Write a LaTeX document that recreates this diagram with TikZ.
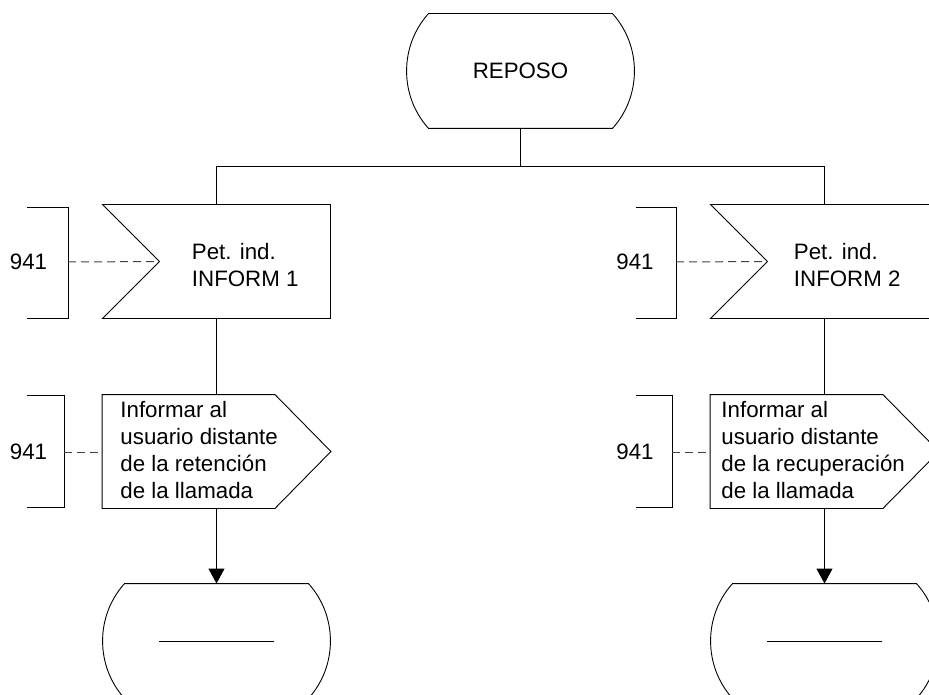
\documentclass[tikz,border=0pt]{standalone}
\usepackage{fontspec}
\setmainfont{Liberation Sans}
\usetikzlibrary{arrows.meta}
\begin{document}
\begin{tikzpicture}[x=1pt,y=-1pt,line width=0.9pt,
  every node/.style={font=\fontsize{22.3}{27}\selectfont,inner sep=0pt},
  statebox/.style={minimum width=183pt,minimum height=114pt},
  inbox/.style={minimum width=227pt,minimum height=113pt},
  outbox/.style={minimum width=228pt,minimum height=113pt},
  txt/.style={align=left,anchor=west},
  dashline/.style={draw=black!75,line width=1pt,dash pattern=on 8pt off 5pt},
  flow/.style={-{Triangle[width=16pt,length=15pt]}}]
\path[use as bounding box] (0,0) rectangle (929,695);
\clip (0,0) rectangle (929,695);
% nodes
\node[statebox] (reposo) at (520.5,71) {REPOSO};
\node[inbox] (in1) at (216.5,261.5) {};
\node[inbox] (in2) at (824.5,261.5) {};
\node[outbox] (out1) at (216.5,451.5) {};
\node[outbox] (out2) at (824.5,451.5) {};
\node[statebox] (end1) at (216.5,641) {};
\node[statebox] (end2) at (824.5,641) {};
\node[txt] (in1t) at (191.5,265) {Pet. ind.\\INFORM 1};
\node[txt] (in2t) at (793.5,265) {Pet. ind.\\INFORM 2};
\node[txt] (out1t) at (120,450) {Informar al\\usuario distante\\de la retención\\de la llamada};
\node[txt] (out2t) at (721,450) {Informar al\\usuario distante\\de la recuperación\\de la llamada};
\node (c1) at (28.5,262) {941};
\node (c2) at (28.5,452) {941};
\node (c3) at (635,262) {941};
\node (c4) at (635,452) {941};
% state outlines
\foreach \n in {reposo,end1,end2}
  \draw (\n.north west) -- (\n.north east)
    .. controls ([shift={(29.3,32.3)}]\n.north east) and ([shift={(29.3,-32.3)}]\n.south east) .. (\n.south east)
    -- (\n.south west)
    .. controls ([shift={(-29.3,-32.3)}]\n.south west) and ([shift={(-29.3,32.3)}]\n.north west) .. cycle;
\foreach \n in {end1,end2}
  \draw ([xshift=-57.5pt]\n.center) -- ([xshift=57.5pt]\n.center);
% inputs
\foreach \n in {in1,in2}
  \draw (\n.north west) -- (\n.north east) -- (\n.south east) -- (\n.south west)
    -- ([xshift=57pt]\n.west) coordinate (\n notch) -- cycle;
% outputs
\foreach \n in {out1,out2}
  \draw (\n.north west) -- ([xshift=-56pt]\n.north east) -- (\n.east)
    -- ([xshift=-56pt]\n.south east) -- (\n.south west) -- cycle;
% comment brackets
\draw (27,207) -| (68,318) -- (27,318);
\draw (27,395) -| (64,507) -- (27,507);
\draw (636,207) -| (676,318) -- (636,318);
\draw (636,395) -| (672,507) -- (636,507);
\coordinate (b1) at (68,262);
\coordinate (b2) at (64,452);
\coordinate (b3) at (676,262);
\coordinate (b4) at (672,452);
\draw[dashline] (b1) -- (in1notch);
\draw[dashline] (b2) -- (b2 -| out1.west);
\draw[dashline] (b3) -- (in2notch);
\draw[dashline] (b4) -- (b4 -| out2.west);
% flow
\draw (reposo.south) -- ++(0,38) coordinate (split);
\draw (in1.north) |- (split) -| (in2.north);
\draw (in1.south) -- (out1.north);
\draw (in2.south) -- (out2.north);
\draw[flow] (out1.south) -- (end1.north);
\draw[flow] (out2.south) -- (end2.north);
\end{tikzpicture}
\end{document}
